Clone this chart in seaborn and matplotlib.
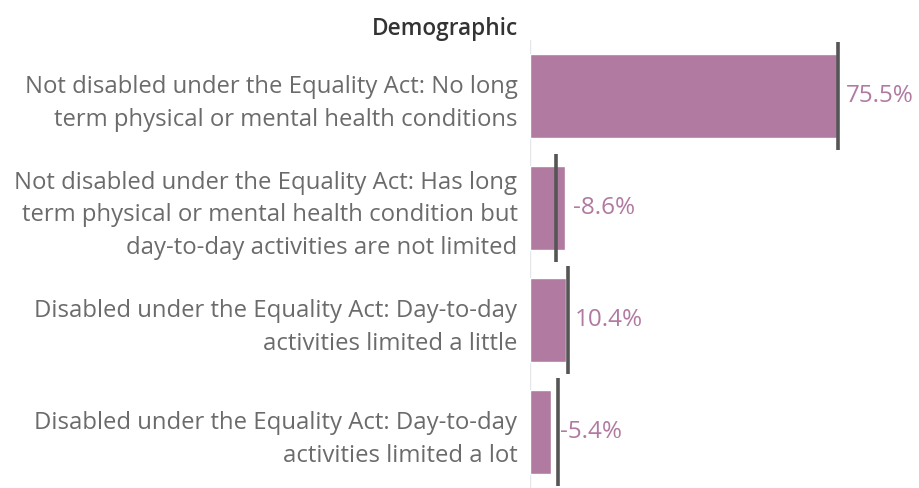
import pandas as pd
import matplotlib.pyplot as plt
import seaborn as sns

# Chart data
demographics = [
    "Not disabled under the Equality Act: No long\nterm physical or mental health conditions",
    "Not disabled under the Equality Act: Has long\nterm physical or mental health condition but\nday-to-day activities are not limited",
    "Disabled under the Equality Act: Day-to-day\nactivities limited a little",
    "Disabled under the Equality Act: Day-to-day\nactivities limited a lot",
]
bar_values = [75.5, 8.5, 8.9, 5.2]
reference_values = [75.7, 6.4, 9.3, 6.9]
value_labels = ["75.5%", "-8.6%", "10.4%", "-5.4%"]

BAR_COLOR = "#B07AA1"
LINE_COLOR = "#555555"
TEXT_COLOR = "#6b6b6b"

sns.set_style("white")
plt.rcParams["font.family"] = ["Open Sans", "DejaVu Sans"]

df = pd.DataFrame({"Demographic": demographics, "Value": bar_values})

fig = plt.figure(figsize=(9.19, 4.88), dpi=100)
ax = fig.add_axes([530 / 919, 0, 389 / 919, 448 / 488])

sns.barplot(data=df, x="Value", y="Demographic", color=BAR_COLOR,
            saturation=1, width=0.75, ax=ax)

# reference lines across each row band
for i, ref in enumerate(reference_values):
    ax.vlines(ref, i - 0.48, i + 0.48, color=LINE_COLOR, lw=2.6, zorder=3)

# value labels next to the bars
for i, (val, lab) in enumerate(zip(bar_values, value_labels)):
    ax.text(val + 2.2, i, lab, va="center", ha="left", color=BAR_COLOR,
            fontsize=17.5)

ax.set_xlim(0, 95.7)
ax.set_ylim(3.5, -0.5)
ax.axvline(0, color="#e6e6e6", lw=1, zorder=0)
ax.set_xticks([])
ax.set_xlabel("")
ax.set_ylabel("")
ax.tick_params(axis="y", length=0, pad=9)
for lbl in ax.get_yticklabels():
    lbl.set_fontsize(17.2)
    lbl.set_color(TEXT_COLOR)
    lbl.set_linespacing(1.48)
for s in ax.spines.values():
    s.set_visible(False)

fig.text(518 / 919, 1 - 29 / 488, "Demographic", ha="right", va="center",
         fontsize=16.3, color="#333333", fontweight="semibold")

fig.savefig("out.png", dpi=100)
